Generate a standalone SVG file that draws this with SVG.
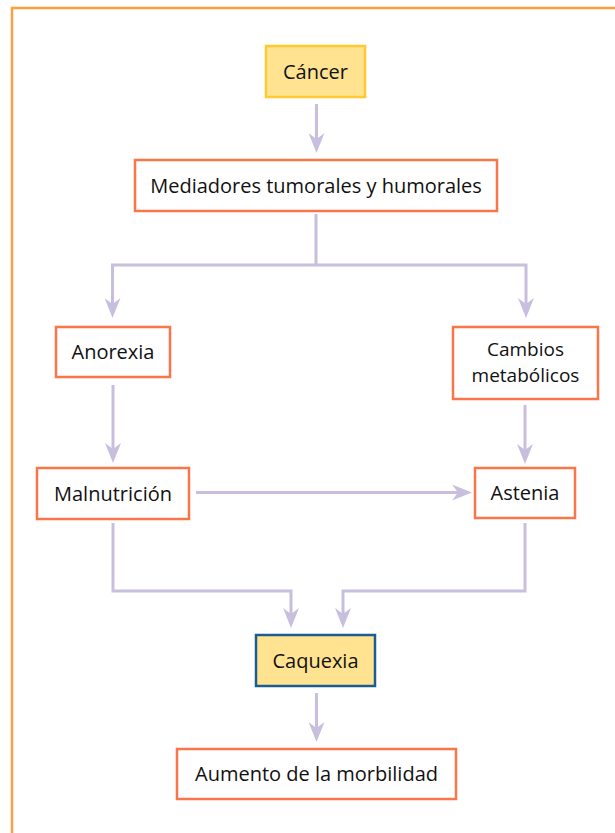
<svg xmlns="http://www.w3.org/2000/svg" width="615" height="833" viewBox="0 0 615 833">
<style>
.frame{fill:none;stroke:#FFA040;stroke-width:2.5}
.box{fill:#FFFFFF;stroke:#FA7548;stroke-width:2.5}
.ybox{fill:#FFE391;stroke:#FFC933;stroke-width:2.5}
.qbox{fill:#FFE391;stroke:#1B5C92;stroke-width:2.5}
.lbl{font-family:"Open Sans","Noto Sans",sans-serif;font-size:20px;fill:#111111;text-anchor:middle}
.con{fill:none;stroke:#C8BFDF;stroke-width:3;stroke-linejoin:miter}
</style>
<defs>
<marker id="ah" viewBox="-20 -8 20 16" markerWidth="20" markerHeight="16" refX="-10" refY="0" markerUnits="userSpaceOnUse" orient="auto">
<path d="M0,0 L-20,-8 L-14,0 L-20,8 Z" fill="#C8BFDF"/>
</marker>
</defs>
<rect class="frame" x="12" y="8" width="700" height="900"/>
<g id="connectors">
<path class="con" d="M316.5,104 V143" marker-end="url(#ah)"/>
<path class="con" d="M316,214 V265 H112.5 V308" marker-end="url(#ah)"/>
<path class="con" d="M316,265 H526 V308" marker-end="url(#ah)"/>
<path class="con" d="M113,385 V453" marker-end="url(#ah)"/>
<path class="con" d="M525,405 V454" marker-end="url(#ah)"/>
<path class="con" d="M196,492.5 H462" marker-end="url(#ah)"/>
<path class="con" d="M113,523 V591 H291 V618" marker-end="url(#ah)"/>
<path class="con" d="M525,523 V591 H343 V618" marker-end="url(#ah)"/>
<path class="con" d="M316.5,693 V732" marker-end="url(#ah)"/>
</g>
<g id="cancer"><rect class="ybox" x="266" y="46" width="99" height="51"/><text class="lbl" x="315.5" y="78.7">Cáncer</text></g>
<g id="mediadores"><rect class="box" x="135" y="160" width="362" height="51"/><text class="lbl" x="316" y="192.7">Mediadores tumorales y humorales</text></g>
<g id="anorexia"><rect class="box" x="56" y="327" width="114" height="50"/><text class="lbl" x="113" y="359">Anorexia</text></g>
<g id="cambios"><rect class="box" x="453" y="327" width="145" height="72"/><text class="lbl" style="font-size:19px" x="525.5" y="356"><tspan x="525.5" y="356">Cambios</tspan><tspan x="525.5" y="382">metabólicos</tspan></text></g>
<g id="malnutricion"><rect class="box" x="37" y="468" width="152" height="51"/><text class="lbl" x="113" y="500.5">Malnutrición</text></g>
<g id="astenia"><rect class="box" x="475" y="468" width="100" height="50"/><text class="lbl" x="525" y="500">Astenia</text></g>
<g id="caquexia"><rect class="qbox" x="256" y="635" width="119" height="51"/><text class="lbl" x="315.5" y="667.5">Caquexia</text></g>
<g id="aumento"><rect class="box" x="177" y="749" width="279" height="50"/><text class="lbl" x="316.5" y="781">Aumento de la morbilidad</text></g>
</svg>
